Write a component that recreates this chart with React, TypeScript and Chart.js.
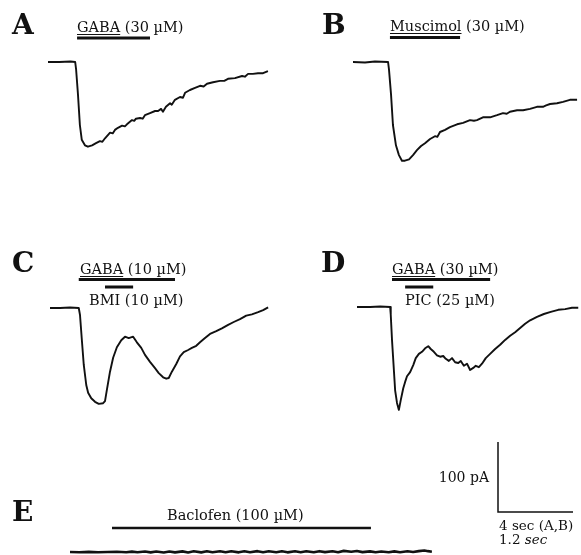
import React, { useEffect, useRef } from "react";
import { Chart, registerables } from "chart.js";
Chart.register(...registerables);

const W = 581;
const H = 555;

// ---- DATA: whole-cell current traces, [time (s), current (pA)] ----
const traceA: [number, number][] = [
  [0, 0], [0.6, 0], [1.2, 0.7], [1.45, 0], [1.5, -11], [1.6, -47], [1.7, -90], [1.8, -111],
  [1.97, -119], [2.13, -121], [2.35, -119], [2.56, -116], [2.77, -113], [2.9, -114], [3.04, -109],
  [3.31, -101], [3.45, -102], [3.57, -97], [3.73, -94], [3.95, -91], [4.1, -92], [4.21, -89],
  [4.48, -83], [4.6, -84], [4.69, -81], [4.91, -80], [5.05, -81], [5.17, -76], [5.44, -73],
  [5.71, -70], [5.87, -70], [6.03, -67], [6.13, -71], [6.29, -64], [6.51, -59], [6.6, -61],
  [6.77, -54], [7.04, -50], [7.2, -51], [7.31, -44], [7.57, -40], [7.84, -37], [8.11, -34],
  [8.3, -35], [8.48, -31], [8.8, -29], [9.17, -27], [9.4, -27], [9.6, -24], [9.97, -23],
  [10.35, -20], [10.5, -21], [10.67, -17], [10.93, -17], [11.2, -16], [11.47, -16], [11.73, -13],
];

const traceB: [number, number][] = [
  [0, 0], [0.64, -0.7], [1.17, 0.7], [1.87, 0], [1.92, -11], [2.03, -47], [2.13, -90],
  [2.29, -119], [2.45, -133], [2.61, -141], [2.77, -141], [2.99, -139], [3.2, -133],
  [3.41, -126], [3.63, -120], [3.84, -116], [4.11, -110], [4.37, -106], [4.5, -107],
  [4.64, -100], [4.91, -97], [5.17, -93], [5.55, -89], [5.87, -87], [6.24, -83], [6.45, -84],
  [6.61, -83], [6.93, -79], [7.31, -79], [7.68, -76], [8.0, -73], [8.2, -74], [8.37, -71],
  [8.75, -69], [9.07, -69], [9.44, -67], [9.81, -64], [10.13, -64], [10.3, -62], [10.51, -60],
  [10.88, -59], [11.2, -57], [11.57, -54], [11.95, -54],
];

const traceC: [number, number][] = [
  [0, 0], [0.16, 0], [0.32, 0.7], [0.46, 0], [0.48, -10], [0.51, -46], [0.54, -81],
  [0.58, -110], [0.61, -121], [0.66, -129], [0.72, -134], [0.78, -137], [0.85, -136],
  [0.88, -133], [0.91, -117], [0.96, -91], [1.01, -71], [1.07, -56], [1.14, -46], [1.2, -41],
  [1.26, -43], [1.33, -41], [1.39, -49], [1.46, -57], [1.52, -67], [1.6, -77], [1.68, -86],
  [1.74, -93], [1.81, -99], [1.86, -101], [1.9, -100], [1.95, -91], [2.02, -80], [2.08, -69],
  [2.14, -63], [2.21, -60], [2.27, -57], [2.34, -54], [2.4, -49], [2.48, -43], [2.56, -37],
  [2.66, -33], [2.75, -29], [2.85, -24], [2.94, -20], [3.04, -16], [3.14, -11], [3.23, -9],
  [3.33, -6], [3.41, -3], [3.49, 1],
];

const traceD: [number, number][] = [
  [0, 0], [0.21, 0], [0.37, 0.7], [0.53, 0], [0.54, -11], [0.56, -47], [0.59, -90],
  [0.61, -119], [0.64, -137], [0.67, -147], [0.7, -133], [0.74, -116], [0.77, -107],
  [0.8, -99], [0.85, -93], [0.9, -83], [0.94, -73], [0.99, -67], [1.04, -64], [1.09, -59],
  [1.14, -56], [1.18, -60], [1.23, -64], [1.28, -69], [1.33, -71], [1.38, -70], [1.42, -74],
  [1.47, -77], [1.52, -73], [1.57, -79], [1.62, -80], [1.66, -77], [1.71, -84], [1.76, -81],
  [1.81, -90], [1.86, -87], [1.9, -84], [1.95, -86], [2.0, -81], [2.06, -73], [2.13, -67],
  [2.21, -60], [2.29, -54], [2.37, -47], [2.45, -41], [2.53, -36], [2.61, -30], [2.69, -24],
  [2.77, -19], [2.88, -14], [2.99, -10], [3.1, -7], [3.22, -4], [3.33, -3], [3.44, -1], [3.54, -1],
];

const traceE: [number, number][] = [
  [0, 0], [0.5, -0.3], [1, 0.2], [1.5, -0.3], [2, 0], [2.5, 0.4], [3, -0.3], [3.3, 0.5],
  [3.6, -0.4], [4, 0.6], [4.3, -0.5], [4.6, 0.6], [5, -0.6], [5.3, 0.8], [5.6, -0.5], [6, 0.9],
  [6.3, -0.6], [6.6, 1.0], [7, -0.5], [7.3, 1.0], [7.6, -0.4], [8, 1.1], [8.3, -0.4], [8.6, 1.0],
  [9, -0.5], [9.3, 1.1], [9.6, -0.3], [10, 1.2], [10.3, -0.4], [10.6, 1.0], [11, -0.4],
  [11.3, 1.1], [11.6, -0.5], [12, 1.0], [12.3, -0.3], [12.6, 1.1], [13, -0.4], [13.3, 1.2],
  [13.6, -0.2], [14, 1.0], [14.3, -0.4], [14.6, 1.6], [15, 0.4], [15.3, 1.5], [15.6, -0.2],
  [16, 0.9], [16.3, -0.3], [16.6, 0.8], [17, -0.4], [17.3, 0.9], [17.6, -0.3], [18, 1.0],
  [18.3, 0], [18.6, 1.2], [18.9, 2.2], [19.1, 1.2], [19.3, 0.4],
];

// Panels
const panelIds = ["A", "B", "C", "D", "E"];
const panelTraces = [traceA, traceB, traceC, traceD, traceE];

// Drug applications (bars above the traces)
const appPanel = ["A", "B", "C", "C", "D", "D", "E"];
const appLabel = [
  "GABA (30 µM)",
  "Muscimol (30 µM)",
  "GABA (10 µM)",
  "BMI (10 µM)",
  "GABA (30 µM)",
  "PIC (25 µM)",
  "Baclofen (100 µM)",
];
const appStart = [1.55, 1.97, 0.46, 0.88, 0.56, 0.77, 2.24]; // s
const appEnd = [5.44, 5.71, 2.0, 1.33, 2.13, 1.22, 16.05]; // s

// Calibration bar values
const calCurrent = 100; // pA
const calTimeAB = 4; // s
const calLabels = ["100 pA", "4 sec (A,B)", "1.2 sec"];

// ---- LAYOUT (pixels) ----
const PX_PER_PA = 0.7;
const PX_PER_S_AB = 18.75;
const PX_PER_S_CD = 62.5;
const panelLayout: Record<string, { ox: number; oy: number; pxs: number; lx: number; ly: number; lw: number }> = {
  A: { ox: 48, oy: 62, pxs: PX_PER_S_AB, lx: 12, ly: 34, lw: 1.9 },
  B: { ox: 353, oy: 62, pxs: PX_PER_S_AB, lx: 322, ly: 34, lw: 1.9 },
  C: { ox: 50, oy: 308, pxs: PX_PER_S_CD, lx: 12, ly: 272, lw: 1.9 },
  D: { ox: 357, oy: 307, pxs: PX_PER_S_CD, lx: 321, ly: 272, lw: 1.9 },
  E: { ox: 70, oy: 552, pxs: PX_PER_S_AB, lx: 12, ly: 521, lw: 2.6 },
};
const appLayout = [
  { barY: 38, th: 3, tx: 77, ty: 32, ul: true },
  { barY: 37.5, th: 3, tx: 390, ty: 31, ul: true },
  { barY: 279.5, th: 3, tx: 80, ty: 274, ul: true },
  { barY: 287, th: 3, tx: 89, ty: 305, ul: false },
  { barY: 279.5, th: 3, tx: 392, ty: 274, ul: true },
  { barY: 287, th: 3, tx: 405, ty: 305, ul: false },
  { barY: 528, th: 2.5, tx: 167, ty: 520, ul: false },
];
const calLayout = { x: 498, y: 512 };

const INK = "#111111";
const SERIF = "'DejaVu Serif', 'Liberation Serif', serif";

const overlay = {
  id: "figureOverlay",
  afterDatasetsDraw(chart: any) {
    const ctx = chart.ctx as CanvasRenderingContext2D;
    ctx.save();
    ctx.fillStyle = INK;
    ctx.strokeStyle = INK;
    ctx.textBaseline = "alphabetic";
    // panel letters
    ctx.font = `bold 28px ${SERIF}`;
    for (const p of panelIds) {
      const L = panelLayout[p];
      ctx.fillText(p, L.lx, L.ly);
    }
    // application bars and labels
    ctx.font = `14.5px ${SERIF}`;
    appLabel.forEach((label, i) => {
      const p = appPanel[i];
      const xs = chart.scales["x" + p];
      const L = appLayout[i];
      const x1 = xs.getPixelForValue(appStart[i]);
      const x2 = xs.getPixelForValue(appEnd[i]);
      ctx.fillRect(x1, L.barY - L.th / 2, x2 - x1, L.th);
      ctx.fillText(label, L.tx, L.ty);
      if (L.ul) {
        const word = label.split(" ")[0];
        const w = ctx.measureText(word).width;
        ctx.fillRect(L.tx, L.ty + 2, w, 1);
      }
    });
    // calibration bars
    const xA = chart.scales.xA;
    const yA = chart.scales.yA;
    const hLen = xA.getPixelForValue(calTimeAB) - xA.getPixelForValue(0);
    const vLen = yA.getPixelForValue(0) - yA.getPixelForValue(calCurrent);
    ctx.lineWidth = 1.5;
    ctx.beginPath();
    ctx.moveTo(calLayout.x, calLayout.y - vLen);
    ctx.lineTo(calLayout.x, calLayout.y);
    ctx.lineTo(calLayout.x + hLen, calLayout.y);
    ctx.stroke();
    ctx.font = `14px ${SERIF}`;
    ctx.textAlign = "right";
    ctx.fillText(calLabels[0], calLayout.x - 9, calLayout.y - 30);
    ctx.textAlign = "left";
    ctx.font = `13.5px ${SERIF}`;
    ctx.fillText(calLabels[1], calLayout.x + 1, calLayout.y + 18);
    const [num, unit] = calLabels[2].split(" ");
    ctx.fillText(num + " ", calLayout.x + 1, calLayout.y + 32);
    const nw = ctx.measureText(num + " ").width;
    ctx.font = `italic 13.5px ${SERIF}`;
    ctx.fillText(unit, calLayout.x + 1 + nw, calLayout.y + 32);
    ctx.restore();
  },
};

export default function App() {
  const ref = useRef<HTMLCanvasElement>(null);
  useEffect(() => {
    const canvas = ref.current;
    if (!canvas) return;
    const scales: any = {
      x: { type: "linear", display: false },
      y: { type: "linear", display: false },
    };
    for (const p of panelIds) {
      const L = panelLayout[p];
      scales["x" + p] = {
        type: "linear",
        display: false,
        min: -L.ox / L.pxs,
        max: (W - L.ox) / L.pxs,
      };
      scales["y" + p] = {
        type: "linear",
        display: false,
        min: -(H - L.oy) / PX_PER_PA,
        max: L.oy / PX_PER_PA,
      };
    }
    const datasets = panelIds.map((p, i) => ({
      label: p,
      data: panelTraces[i].map(([t, v]) => ({ x: t, y: v })),
      xAxisID: "x" + p,
      yAxisID: "y" + p,
      borderColor: INK,
      borderWidth: panelLayout[p].lw,
      pointRadius: 0,
      tension: 0,
      fill: false,
      borderJoinStyle: "round" as const,
    }));
    const chart = new Chart(canvas, {
      type: "line",
      data: { datasets },
      options: {
        responsive: false,
        animation: false,
        devicePixelRatio: 1,
        layout: { padding: 0 },
        plugins: { legend: { display: false }, tooltip: { enabled: false }, title: { display: false } },
        scales,
      },
      plugins: [overlay],
    });
    return () => chart.destroy();
  }, []);
  return (
    <div style={{ position: "absolute", left: 0, top: 0, width: W, height: H, background: "#fff" }}>
      <canvas ref={ref} width={W} height={H} style={{ display: "block", width: W, height: H }} />
    </div>
  );
}
